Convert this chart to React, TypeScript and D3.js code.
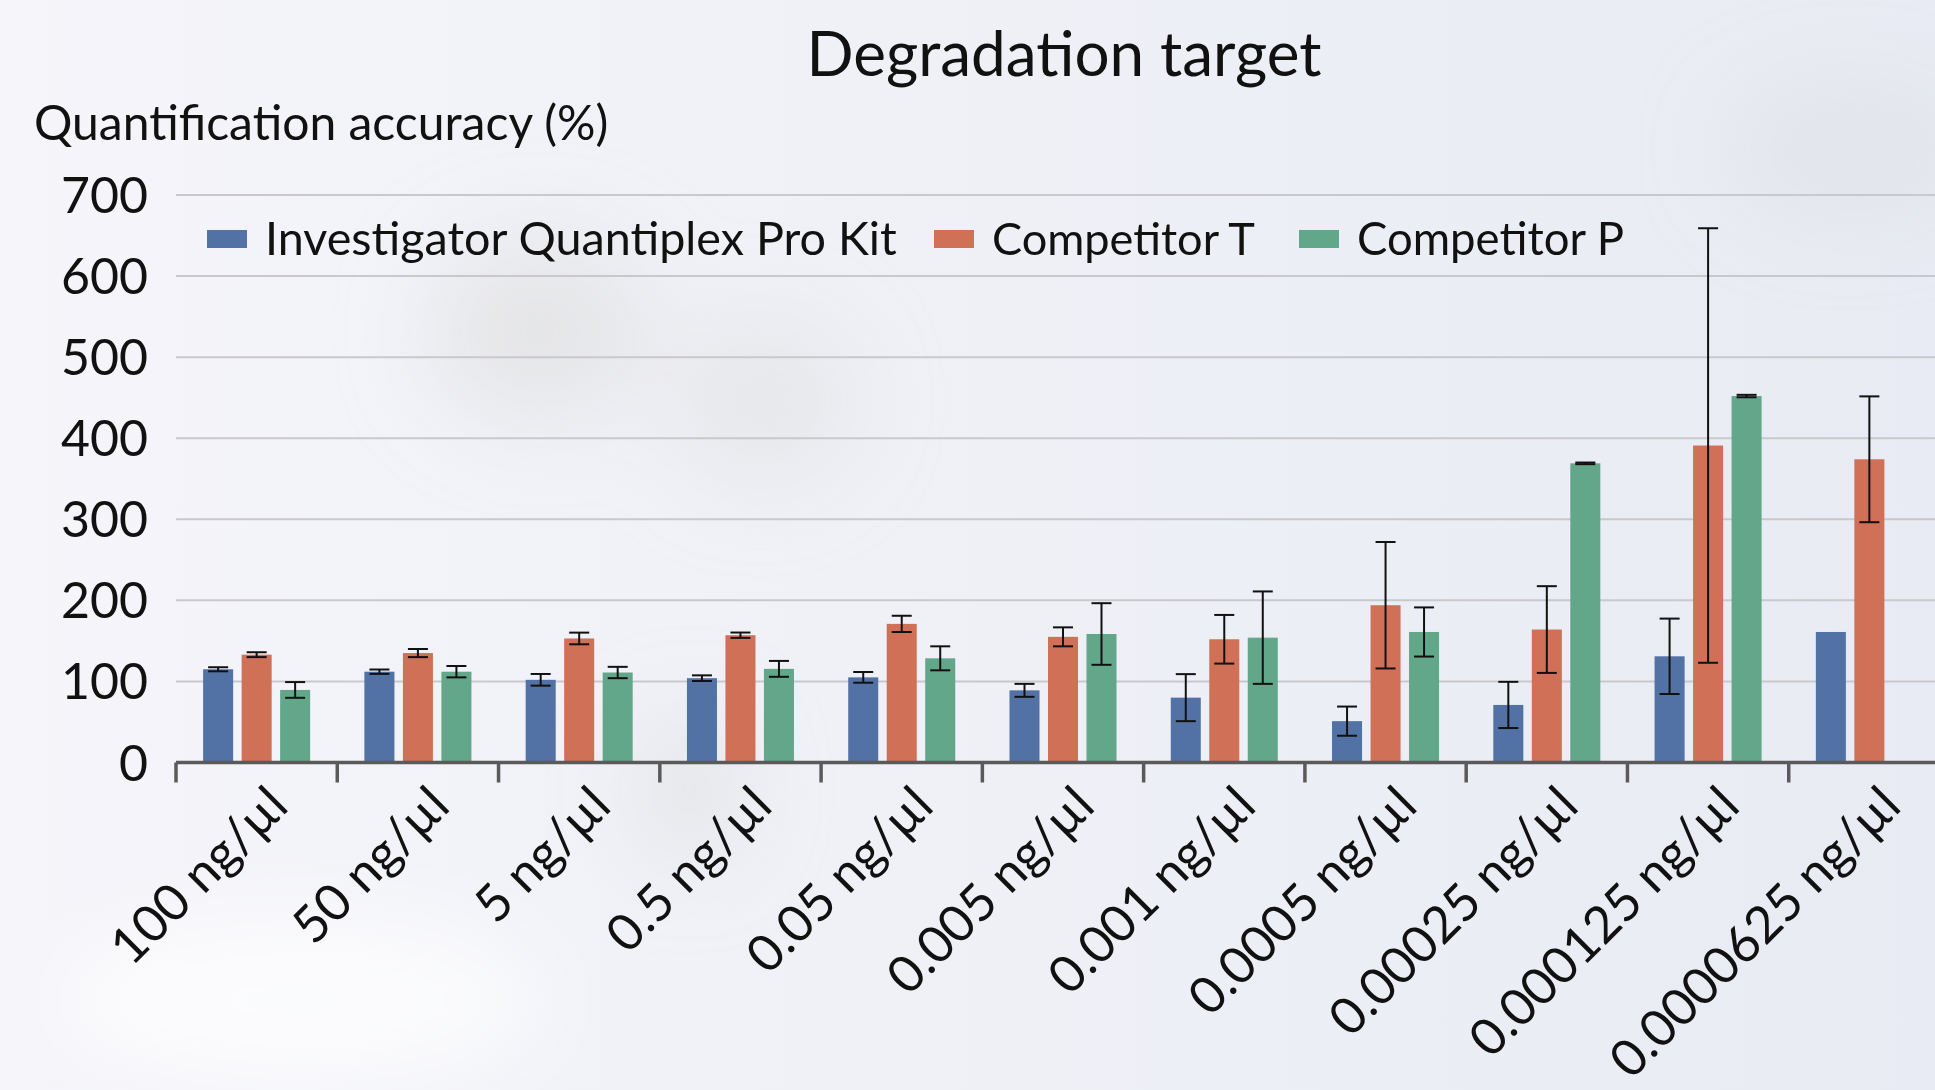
import React, { useEffect, useRef } from "react";
import * as d3 from "d3";

const categories = [
  "100 ng/µl", "50 ng/µl", "5 ng/µl", "0.5 ng/µl", "0.05 ng/µl", "0.005 ng/µl",
  "0.001 ng/µl", "0.0005 ng/µl", "0.00025 ng/µl", "0.000125 ng/µl", "0.0000625 ng/µl",
];
const seriesNames = ["Investigator Quantiplex Pro Kit", "Competitor T", "Competitor P"];
const seriesColors = ["#5272a5", "#d07057", "#63a78b"];

const quantiplex = [115, 112, 102, 104, 105, 89, 80, 51, 71, 131, 161];
const quantiplexErr = [2.5, 2.7, 7.2, 3.5, 6.6, 8, 29, 18, 28.5, 46.5, null];
const competitorT = [133, 135, 153, 157, 171, 155, 152, 194, 164, 391, 374];
const competitorTErr = [3, 5, 7.2, 3.3, 10, 11.7, 30, 78, 53.5, 268, 77.6];
const competitorP = [89.5, 112, 111, 115.5, 128.5, 158.5, 154, 161, 369, 452, null];
const competitorPErr = [9.7, 7, 7, 9.8, 14.8, 38, 57, 30.3, 1, 1.5, null];

const yTicks = [0, 100, 200, 300, 400, 500, 600, 700];

const W = 1935;
const H = 1090;
const FONT = "Lato, 'Noto Sans', sans-serif";

export default function App() {
  const ref = useRef<SVGSVGElement | null>(null);

  useEffect(() => {
    document.body.style.margin = "0";
    const svg = d3.select(ref.current);
    svg.selectAll("*").remove();

    const defs = svg.append("defs");
    const lg = defs.append("linearGradient").attr("id", "bg").attr("x1", "0").attr("x2", "1").attr("y1", "0").attr("y2", "0");
    lg.append("stop").attr("offset", "0").attr("stop-color", "#f5f5fa");
    lg.append("stop").attr("offset", "0.55").attr("stop-color", "#eef0f6");
    lg.append("stop").attr("offset", "1").attr("stop-color", "#e8ebf3");
    const blur = defs.append("filter").attr("id", "blur").attr("x", "-50%").attr("y", "-50%").attr("width", "200%").attr("height", "200%");
    blur.append("feGaussianBlur").attr("stdDeviation", 45);

    svg.append("rect").attr("width", W).attr("height", H).attr("fill", "url(#bg)");
    const blobs = svg.append("g").attr("filter", "url(#blur)");
    blobs.append("ellipse").attr("cx", 540).attr("cy", 330).attr("rx", 110).attr("ry", 90).attr("fill", "#dedede").attr("opacity", 0.6);
    blobs.append("ellipse").attr("cx", 760).attr("cy", 400).attr("rx", 90).attr("ry", 80).attr("fill", "#dedede").attr("opacity", 0.5);
    blobs.append("ellipse").attr("cx", 690).attr("cy", 790).attr("rx", 45).attr("ry", 70).attr("fill", "#d8d8d8").attr("opacity", 0.6);
    blobs.append("ellipse").attr("cx", 1850).attr("cy", 150).attr("rx", 120).attr("ry", 60).attr("fill", "#dcdde2").attr("opacity", 0.5);
    blobs.append("ellipse").attr("cx", 300).attr("cy", 1000).attr("rx", 250).attr("ry", 90).attr("fill", "#ffffff").attr("opacity", 0.7);

    const x = d3.scaleBand<string>().domain(categories).range([176, 1950]).paddingInner(0).paddingOuter(0);
    const xs = d3.scaleBand<string>().domain(seriesNames).range([-57.75, 57.75]).paddingInner(0.22).paddingOuter(0.11);
    const y = d3.scaleLinear().domain([0, 700]).range([762.5, 195]);

    // gridlines
    svg.append("g").selectAll("line").data(yTicks.filter((t) => t > 0)).join("line")
      .attr("x1", 176).attr("x2", W).attr("y1", (d) => y(d)).attr("y2", (d) => y(d))
      .attr("stroke", "#c9c9cd").attr("stroke-width", 2);

    // y tick labels
    svg.append("g").selectAll("text").data(yTicks).join("text")
      .attr("x", 148).attr("y", (d) => y(d)).attr("dy", "0.36em")
      .attr("text-anchor", "end").attr("font-family", FONT).attr("font-size", 50).attr("fill", "#111")
      .text((d) => String(d));

    const series = [
      { name: seriesNames[0], values: quantiplex, errs: quantiplexErr, color: seriesColors[0] },
      { name: seriesNames[1], values: competitorT, errs: competitorTErr, color: seriesColors[1] },
      { name: seriesNames[2], values: competitorP, errs: competitorPErr, color: seriesColors[2] },
    ];

    const bars = svg.append("g");
    const errG = svg.append("g");
    series.forEach((s) => {
      const pts = categories.map((c, i) => ({ c, v: s.values[i], e: s.errs[i] })).filter((p) => p.v != null);
      bars.selectAll(null).data(pts).join("rect")
        .attr("x", (p) => (x(p.c) as number) + x.bandwidth() / 2 + (xs(s.name) as number))
        .attr("width", xs.bandwidth())
        .attr("y", (p) => y(p.v as number))
        .attr("height", (p) => y(0) - y(p.v as number))
        .attr("fill", s.color);
      const ep = pts.filter((p) => p.e != null);
      const cx = (p: any) => (x(p.c) as number) + x.bandwidth() / 2 + (xs(s.name) as number) + xs.bandwidth() / 2;
      errG.selectAll(null).data(ep).join("line")
        .attr("x1", cx).attr("x2", cx)
        .attr("y1", (p) => y((p.v as number) + (p.e as number)))
        .attr("y2", (p) => y((p.v as number) - (p.e as number)))
        .attr("stroke", "#111").attr("stroke-width", 2);
      [1, -1].forEach((sg) => {
        errG.selectAll(null).data(ep).join("line")
          .attr("x1", (p) => cx(p) - 10).attr("x2", (p) => cx(p) + 10)
          .attr("y1", (p) => y((p.v as number) + sg * (p.e as number)))
          .attr("y2", (p) => y((p.v as number) + sg * (p.e as number)))
          .attr("stroke", "#111").attr("stroke-width", 2);
      });
    });

    // x axis
    const ax = svg.append("g");
    ax.append("line").attr("x1", 176).attr("x2", W).attr("y1", y(0)).attr("y2", y(0))
      .attr("stroke", "#5a5a5a").attr("stroke-width", 3.5);
    const boundaries = categories.map((c) => x(c) as number);
    ax.selectAll(null).data(boundaries).join("line")
      .attr("x1", (d) => d).attr("x2", (d) => d).attr("y1", y(0)).attr("y2", y(0) + 20)
      .attr("stroke", "#5a5a5a").attr("stroke-width", 3.5);

    ax.selectAll(null).data(categories).join("text")
      .attr("transform", (c) => `translate(${(x(c) as number) + x.bandwidth() / 2 + 34},${y(0) + 46}) rotate(-45)`)
      .attr("text-anchor", "end").attr("font-family", FONT).attr("font-size", 51).attr("fill", "#111")
      .text((c) => c);

    // titles
    svg.append("text").attr("x", 1064).attr("y", 76).attr("text-anchor", "middle")
      .attr("font-family", FONT).attr("font-size", 62).attr("fill", "#111").text("Degradation target");
    svg.append("text").attr("x", 34).attr("y", 140)
      .attr("font-family", FONT).attr("font-size", 48).attr("fill", "#111").text("Quantification accuracy (%)");

    // legend
    const legendX = [207, 934, 1299];
    const legendTextW = [632, 263, 267];
    const leg = svg.append("g");
    series.forEach((s, i) => {
      leg.append("rect").attr("x", legendX[i]).attr("y", 230).attr("width", 40).attr("height", 18).attr("fill", s.color);
      const t = leg.append("text").attr("x", legendX[i] + 58).attr("y", 255)
        .attr("font-family", FONT).attr("font-size", 50).attr("fill", "#111").text(s.name);
      const node = t.node() as SVGTextElement;
      const w = node.getComputedTextLength();
      if (w > 0) t.attr("font-size", Math.min(52, (50 * legendTextW[i]) / w));
    });
  }, []);

  return <svg ref={ref} width={W} height={H} style={{ display: "block" }} />;
}
